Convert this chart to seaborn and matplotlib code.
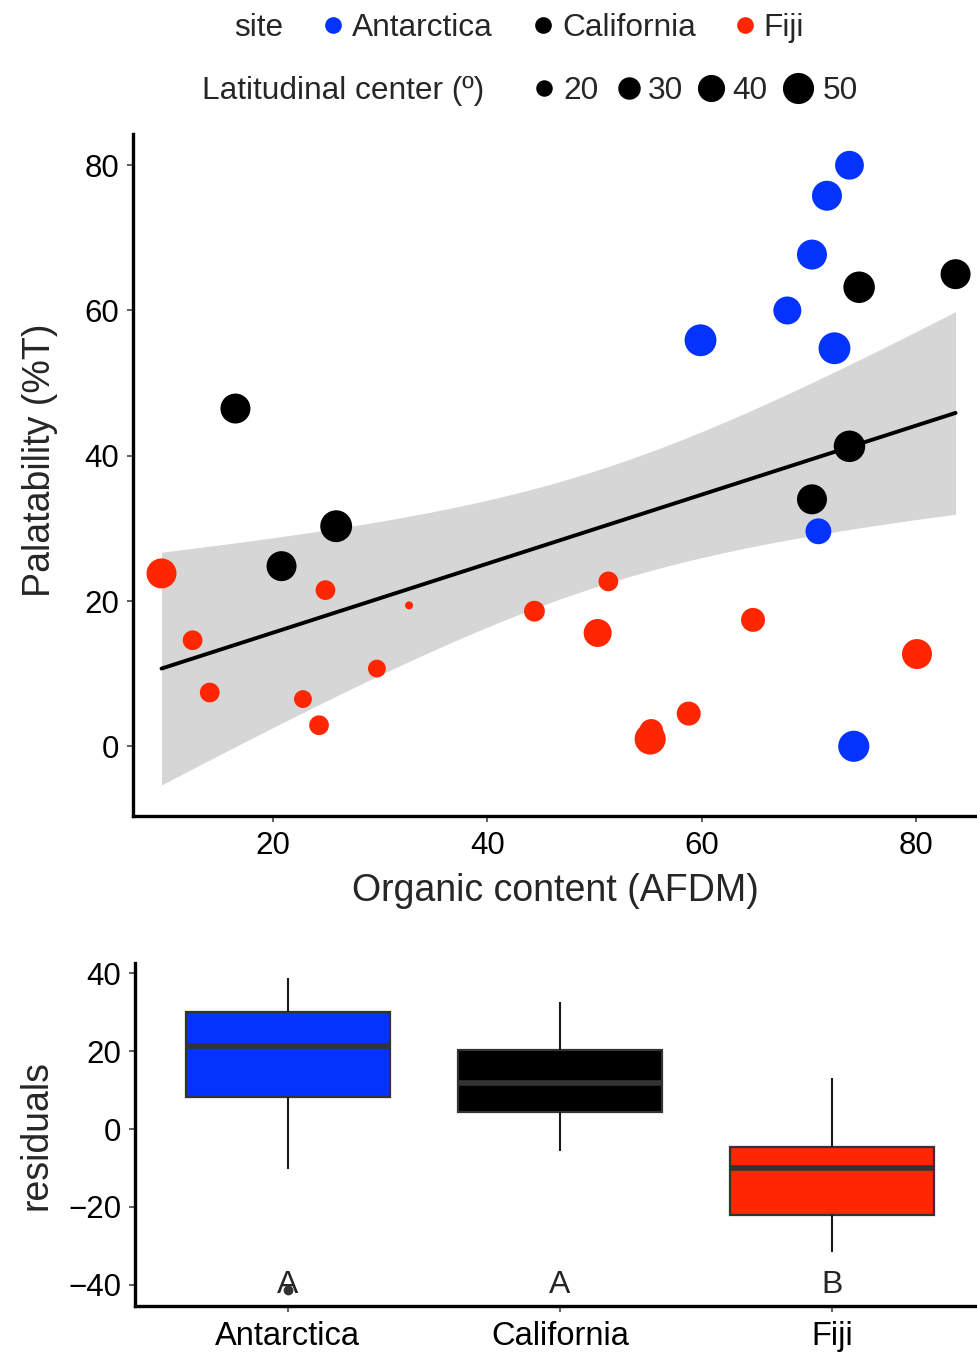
import numpy as np
import pandas as pd
import matplotlib
matplotlib.use("Agg")
import matplotlib.pyplot as plt
from matplotlib.lines import Line2D
import seaborn as sns

# ---------------- data ----------------
sites = ["Antarctica", "California", "Fiji"]

ant_afdm = [73.8, 71.7, 70.3, 68.0, 59.9, 72.4, 70.9, 74.2]
ant_palat = [80.0, 75.8, 67.7, 60.0, 55.9, 54.8, 29.6, 0.0]
ant_lat = [44, 47, 47, 42, 52, 52, 37, 50]

cal_afdm = [16.5, 20.8, 25.9, 70.3, 73.8, 74.7, 83.7]
cal_palat = [46.5, 24.8, 30.3, 34.0, 41.3, 63.2, 65.0]
cal_lat = [47, 47, 52, 47, 51, 51, 47]

fij_afdm = [9.6, 12.5, 14.1, 22.8, 24.3, 24.9, 29.7, 32.7, 44.4, 50.3,
            51.3, 55.3, 55.2, 58.8, 64.8, 80.1]
fij_palat = [23.8, 14.6, 7.4, 6.5, 2.9, 21.5, 10.7, 19.4, 18.6, 15.6,
             22.7, 2.1, 1.0, 4.5, 17.4, 12.7]
fij_lat = [47, 25, 25, 22, 25, 25, 22, 11, 27, 42, 25, 33, 50, 33, 33, 47]

size_breaks = [20, 30, 40, 50]
letters = ["A", "A", "B"]

# ---------------- styles ----------------
palette = {"Antarctica": "#0433FF", "California": "#000000", "Fiji": "#FF2600"}
SIZE_NORM = (11, 52)
SIZES = (33, 526)          # marker area (pt^2) at the ends of SIZE_NORM
T_975 = 2.045              # Student t quantile, 29 d.f., for the 95% band

df = pd.DataFrame({
    "site": ["Antarctica"] * len(ant_afdm) + ["California"] * len(cal_afdm) + ["Fiji"] * len(fij_afdm),
    "afdm": ant_afdm + cal_afdm + fij_afdm,
    "palat": ant_palat + cal_palat + fij_palat,
    "lat": ant_lat + cal_lat + fij_lat,
})

# linear fit, its residuals and the analytic 95% confidence band
xv = df["afdm"].to_numpy(float)
yv = df["palat"].to_numpy(float)
slope, intercept = np.polyfit(xv, yv, 1)
df["resid"] = yv - (intercept + slope * xv)
n = len(xv)
sigma = np.sqrt(np.sum(df["resid"] ** 2) / (n - 2))
sxx = np.sum((xv - xv.mean()) ** 2)
xgrid = np.linspace(xv.min(), xv.max(), 80)
yfit = intercept + slope * xgrid
half = T_975 * sigma * np.sqrt(1 / n + (xgrid - xv.mean()) ** 2 / sxx)

sns.set_theme(style="white")
plt.rcParams["font.family"] = ["Liberation Sans", "DejaVu Sans"]
plt.rcParams["axes.unicode_minus"] = True

W, H = 977, 1355
fig = plt.figure(figsize=(W / 100, H / 100), dpi=100)

ax1 = fig.add_axes([133 / W, 1 - 816 / H, 1 - 133 / W, (816 - 134) / H])
ax2 = fig.add_axes([135 / W, 1 - 1306 / H, 1 - 135 / W, (1306 - 963) / H])

# ---------------- top panel ----------------
ax1.fill_between(xgrid, yfit - half, yfit + half, color="#D6D6D6",
                 linewidth=0, zorder=1)
sns.regplot(data=df, x="afdm", y="palat", scatter=False, color="black",
            ci=None, truncate=True, ax=ax1,
            line_kws={"linewidth": 2.8, "zorder": 2})

sns.scatterplot(data=df, x="afdm", y="palat", hue="site", size="lat",
                palette=palette, sizes=SIZES, size_norm=SIZE_NORM,
                linewidth=0, legend=False, ax=ax1, zorder=3)

ax1.set_xlim(6.94, 85.7)
ax1.set_ylim(-9.6, 84.3)
ax1.set_xticks([20, 40, 60, 80])
ax1.set_yticks([0, 20, 40, 60, 80])
ax1.set_xlabel("Organic content (AFDM)", fontsize=27)
ax1.set_ylabel("Palatability (%T)", fontsize=27)
ax1.xaxis.set_label_coords(0.5, -0.083)
ax1.yaxis.set_label_coords(-0.089, 0.522)

# ---------------- bottom panel ----------------
sns.boxplot(data=df, x="site", y="resid", hue="site", order=sites,
            hue_order=sites, palette=palette, saturation=1, width=0.75,
            linecolor="#333333", linewidth=1.6, showcaps=False, legend=False,
            ax=ax2,
            medianprops={"linewidth": 4, "color": "#333333"},
            whiskerprops={"linewidth": 1.5, "color": "#1a1a1a"},
            flierprops={"marker": "o", "markersize": 6,
                        "markerfacecolor": "#333333", "markeredgecolor": "#333333"})
for i, lab in enumerate(letters):
    ax2.text(i, -40, lab, ha="center", va="center", fontsize=23, zorder=6)

ax2.set_xlim(-0.561, 2.532)
ax2.set_ylim(-45.4, 42.6)
ax2.set_yticks([-40, -20, 0, 20, 40])
ax2.set_xlabel("")
ax2.set_ylabel("residuals", fontsize=27)
ax2.yaxis.set_label_coords(-0.096, 0.5)

for ax in (ax1, ax2):
    for side in ("top", "right"):
        ax.spines[side].set_visible(False)
    for side in ("left", "bottom"):
        ax.spines[side].set_linewidth(2.4)
        ax.spines[side].set_color("black")
    ax.tick_params(axis="both", which="major", direction="out", length=4.5,
                   width=1.1, color="#333333", labelsize=22.5, labelcolor="black",
                   left=True, bottom=True)
    ax.tick_params(axis="y", pad=5.5)
    ax.tick_params(axis="x", pad=6.5)
    ax.set_facecolor("white")
    ax.grid(False)
ax2.tick_params(axis="x", labelsize=23.5)

# ---------------- legend (drawn in figure coordinates) ----------------
def fy(py):
    return 1 - py / H

def fx(px):
    return px / W

FS_LEG = 22.8
# row 1: site
fig.text(fx(234), fy(36), "site", fontsize=FS_LEG, ha="left", va="baseline")
for name, dot_x, txt_x in zip(sites, [333, 543, 745], [352, 562, 763]):
    fig.add_artist(Line2D([fx(dot_x)], [fy(25)], marker="o", linestyle="none",
                          markersize=12, markerfacecolor=palette[name],
                          markeredgewidth=0, transform=fig.transFigure))
    fig.text(fx(txt_x), fy(36), name, fontsize=FS_LEG, ha="left", va="baseline")

# row 2: latitudinal center sizes (same mapping as the scatter)
fig.text(fx(202), fy(99), "Latitudinal center (º)", fontsize=FS_LEG,
         ha="left", va="baseline")
for val, dot_x, txt_x in zip(size_breaks, [544, 629, 711, 798], [563, 648, 732, 823]):
    area = SIZES[0] + (SIZES[1] - SIZES[0]) * (val - SIZE_NORM[0]) / (SIZE_NORM[1] - SIZE_NORM[0])
    fig.add_artist(Line2D([fx(dot_x)], [fy(88)], marker="o", linestyle="none",
                          markersize=np.sqrt(area), markerfacecolor="black",
                          markeredgewidth=0, transform=fig.transFigure))
    fig.text(fx(txt_x), fy(99), str(val), fontsize=FS_LEG, ha="left", va="baseline")

fig.savefig("out.png", dpi=100, facecolor="white")
